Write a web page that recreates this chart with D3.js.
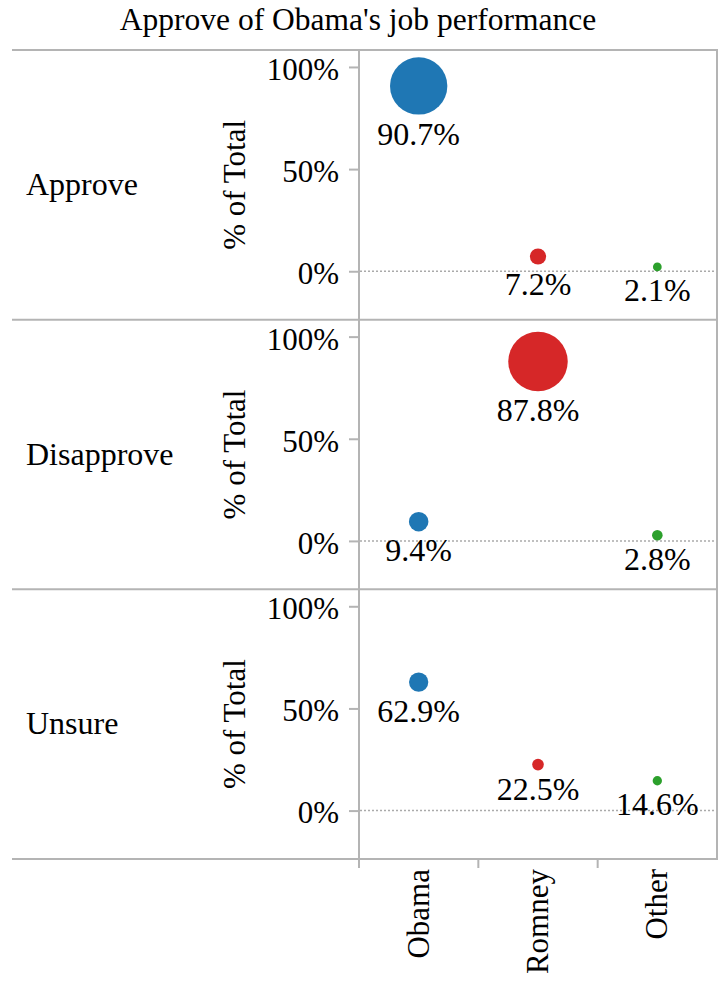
<!DOCTYPE html>
<html>
<head>
<meta charset="utf-8">
<script src="https://cdn.jsdelivr.net/npm/d3@7"></script>
<style>
  body { margin: 0; background: #fff; font-family: "Times New Roman", serif; }
</style>
</head>
<body>
<svg id="chart" width="719" height="987" font-family="Times New Roman"></svg>
<script>
// Approve of Obama's job performance: vote share by approval group, circle size = respondents

var rows = ["Approve", "Disapprove", "Unsure"];
var candidates = ["Obama", "Romney", "Other"];
var colors = ["#1f77b4", "#d62728", "#2ca02c"];

// % of total within each approval group
var pctApprove = [90.7, 7.2, 2.1];
var pctDisapprove = [9.4, 87.8, 2.8];
var pctUnsure = [62.9, 22.5, 14.6];

// respondent counts (sets the circle size)
var nApprove = [907, 72, 21];
var nDisapprove = [105, 977, 31];
var nUnsure = [103, 37, 24];

var yTicks = [0, 50, 100];

(function() {
  var left = 12, axisX = 359, right = 717, top = 50, bottom = 859;
  var font = "Times New Roman";
  var lineColor = "#b4b4b4";

  var svg = d3.select("#chart");

  var pcts = [pctApprove, pctDisapprove, pctUnsure];
  var counts = [nApprove, nDisapprove, nUnsure];

  var rowScale = d3.scaleBand()
    .domain(rows)
    .range([top, bottom]);

  var xPositionScale = d3.scaleBand()
    .domain(candidates)
    .range([axisX, right]);

  var radiusScale = d3.scaleSqrt()
    .domain([0, 1000])
    .range([0, 30.1]);

  var colorScale = d3.scaleOrdinal()
    .domain(candidates)
    .range(colors);

  // title
  svg.append("text")
    .attr("x", 358)
    .attr("y", 30)
    .attr("text-anchor", "middle")
    .attr("font-family", font)
    .attr("font-size", 31.5)
    .text("Approve of Obama's job performance");

  rows.forEach(function(row, i) {
    var y0 = rowScale(row), h = rowScale.bandwidth();

    var yPositionScale = d3.scaleLinear()
      .domain([-23.7, 108.3])
      .range([y0 + h, y0]);

    var g = svg.append("g");

    // row header
    g.append("text")
      .attr("x", 26)
      .attr("y", y0 + h / 2 + 10)
      .attr("font-family", font)
      .attr("font-size", 32)
      .text(row);

    // y axis title
    g.append("text")
      .attr("transform", "translate(245," + (y0 + h / 2) + ") rotate(-90)")
      .attr("text-anchor", "middle")
      .attr("font-family", font)
      .attr("font-size", 31)
      .text("% of Total");

    var yAxis = d3.axisLeft(yPositionScale)
      .tickValues(yTicks)
      .tickSize(10)
      .tickPadding(10)
      .tickFormat(function(d) { return d + "%"; });

    g.append("g")
      .attr("transform", "translate(" + axisX + ",0)")
      .call(yAxis)
      .call(function(a) {
        a.attr("font-family", font);
        a.select(".domain").remove();
        a.selectAll("line").attr("stroke", lineColor).attr("stroke-width", 2);
        a.selectAll("text")
          .attr("fill", "#000")
          .attr("font-family", font)
          .attr("font-size", 31)
          .attr("dy", "0.4em");
      });

    // zero line
    g.append("line")
      .attr("stroke", "#aaa")
      .attr("stroke-width", 1.5)
      .attr("stroke-dasharray", "2,2")
      .attr("x1", axisX + 1)
      .attr("x2", right)
      .attr("y1", yPositionScale(0))
      .attr("y2", yPositionScale(0));

    var datapoints = candidates.map(function(c, j) {
      return { candidate: c, pct: pcts[i][j], n: counts[i][j] };
    });

    g.selectAll("circle")
      .data(datapoints)
      .enter().append("circle")
      .attr("cx", function(d) { return xPositionScale(d.candidate) + xPositionScale.bandwidth() / 2; })
      .attr("cy", function(d) { return yPositionScale(d.pct); })
      .attr("r", function(d) { return radiusScale(d.n); })
      .attr("fill", function(d) { return colorScale(d.candidate); });

    g.selectAll(".label")
      .data(datapoints)
      .enter().append("text")
      .attr("class", "label")
      .attr("x", function(d) { return xPositionScale(d.candidate) + xPositionScale.bandwidth() / 2; })
      .attr("y", function(d) { return yPositionScale(d.pct) + radiusScale(d.n) + 30; })
      .attr("text-anchor", "middle")
      .attr("font-family", font)
      .attr("font-size", 32)
      .text(function(d) { return d.pct.toFixed(1) + "%"; });

    // horizontal separator under each row
    svg.append("line")
      .attr("stroke", lineColor)
      .attr("stroke-width", 2)
      .attr("x1", left)
      .attr("x2", right + 1)
      .attr("y1", y0 + h)
      .attr("y2", y0 + h);
  });

  // top border, right border, axis line
  var frame = [
    [left, top, right + 1, top],
    [right, top, right, bottom],
    [axisX, top, axisX, bottom + 9]
  ];
  svg.selectAll(".frame")
    .data(frame)
    .enter().append("line")
    .attr("class", "frame")
    .attr("stroke", lineColor)
    .attr("stroke-width", 2)
    .attr("x1", function(d) { return d[0]; })
    .attr("y1", function(d) { return d[1]; })
    .attr("x2", function(d) { return d[2]; })
    .attr("y2", function(d) { return d[3]; });

  // bottom x axis
  var xAxis = d3.axisBottom(xPositionScale)
    .tickSize(0)
    .tickPadding(0);

  svg.append("g")
    .attr("transform", "translate(0," + bottom + ")")
    .call(xAxis)
    .call(function(a) {
      a.attr("font-family", font);
      a.select(".domain").remove();
      a.selectAll("text")
        .attr("fill", "#000")
        .attr("font-family", font)
        .attr("font-size", 31)
        .attr("transform", "rotate(-90)")
        .attr("x", -10)
        .attr("y", 0)
        .attr("dy", "0.32em")
        .style("text-anchor", "end");
    });

  // band dividers below the axis
  svg.selectAll(".divider")
    .data(candidates.slice(1))
    .enter().append("line")
    .attr("class", "divider")
    .attr("stroke", lineColor)
    .attr("stroke-width", 2)
    .attr("x1", function(d) { return xPositionScale(d); })
    .attr("x2", function(d) { return xPositionScale(d); })
    .attr("y1", bottom)
    .attr("y2", bottom + 9);
})();
</script>
</body>
</html>
